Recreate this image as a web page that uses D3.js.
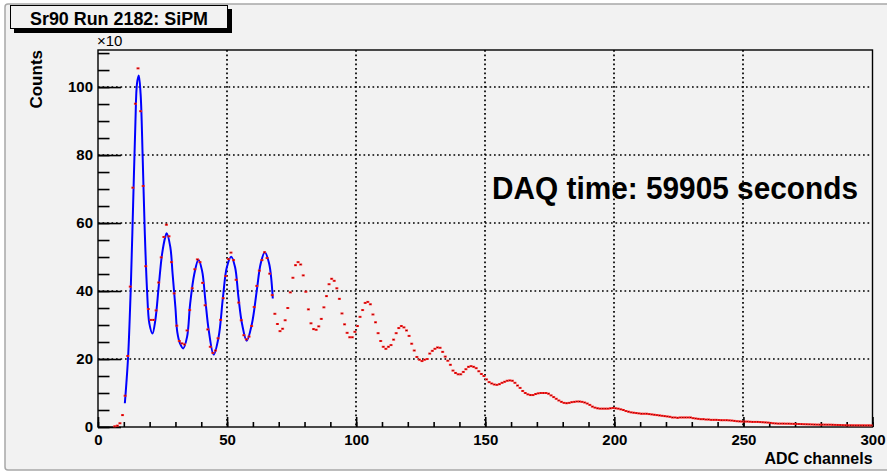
<!DOCTYPE html>
<html>
<head>
<meta charset="utf-8">
<script src="https://cdn.jsdelivr.net/npm/d3@7"></script>
<style>
  html, body { margin: 0; padding: 0; background: #ffffff; }
  svg { display: block; }
  text { font-family: "Liberation Sans", Arial, Helvetica, sans-serif; fill: #000; }
</style>
</head>
<body>
<script>
// ---- data (counts in units of 10^3 per 1-channel bin, bins 0..299) ----
const counts = [
  0, 0, 0, 0, 0, 0, 0.2, 0.4, 1.1, 3.5,
  9.2, 20.9, 41.3, 70.4, 95.1, 105.5, 92.9, 70.9, 47.3, 34.7,
  31.5, 31.5, 34.3, 42.5, 49.9, 55.9, 59.5, 56.1, 48.5, 39.3,
  29.8, 25.3, 24.6, 24.3, 28.4, 34.4, 40.8, 46.4, 49.3, 48.5,
  42.4, 35.8, 28.7, 23.6, 21.8, 22.5, 26.1, 31.5, 37.9, 44.4,
  49.4, 51.3, 49.1, 43.3, 36.6, 31.4, 27.0, 25.8, 26.6, 29.7,
  35.3, 41.5, 46.0, 49.1, 51.4, 49.7, 45.1, 38.8, 33.3, 30.3,
  28.2, 28.9, 31.4, 35.0, 39.6, 43.9, 47.6, 48.5, 47.8, 44.6,
  39.8, 34.6, 30.5, 28.8, 28.6, 29.6, 31.8, 35.2, 38.5, 42.0,
  43.6, 43.0, 40.8, 37.7, 33.4, 30.2, 27.7, 26.4, 26.4, 28.0,
  29.7, 32.4, 34.4, 36.5, 36.8, 36.1, 33.1, 30.8, 27.6, 25.3,
  23.6, 23.0, 23.6, 24.1, 25.7, 27.6, 29.1, 29.7, 29.3, 28.4,
  26.8, 24.5, 22.5, 20.6, 19.8, 19.4, 19.8, 20.0, 21.6, 22.4,
  23.0, 23.4, 23.3, 22.1, 20.7, 19.5, 18.3, 16.6, 15.9, 15.5,
  15.5, 16.2, 17.0, 17.7, 17.9, 17.7, 17.3, 16.4, 15.6, 15.0,
  14.0, 13.2, 12.8, 12.5, 12.4, 12.6, 13.0, 13.3, 13.6, 13.7,
  13.6, 13.0, 12.2, 11.5, 10.6, 10.0, 9.6, 9.4, 9.4, 9.7,
  9.9, 10.0, 10.0, 10.0, 9.8, 9.3, 8.8, 8.3, 7.8, 7.4,
  7.1, 7.0, 7.1, 7.3, 7.4, 7.5, 7.5, 7.4, 7.2, 6.9,
  6.5, 6.0, 5.7, 5.5, 5.4, 5.4, 5.4, 5.4, 5.5, 5.6,
  5.5, 5.4, 5.2, 5.0, 4.7, 4.5, 4.3, 4.2, 4.1, 4.0,
  3.9, 3.9, 3.9, 3.8, 3.7, 3.6, 3.5, 3.4, 3.3, 3.2,
  3.1, 3.0, 2.8, 2.8, 2.7, 2.8, 2.8, 2.8, 2.8, 2.8,
  2.6, 2.5, 2.4, 2.3, 2.3, 2.2, 2.2, 2.1, 2.1, 2.1,
  2.05, 2.0, 2.0, 2.0, 1.95, 1.9, 1.8, 1.7, 1.65, 1.6,
  1.6, 1.6, 1.55, 1.5, 1.5, 1.5, 1.45, 1.4, 1.35, 1.3,
  1.2, 1.1, 1.05, 1.0, 1.0, 1.0, 0.98, 0.98, 0.95, 0.92,
  0.9, 0.88, 0.85, 0.82, 0.8, 0.78, 0.75, 0.72, 0.7, 0.69,
  0.69, 0.69, 0.68, 0.68, 0.65, 0.62, 0.6, 0.58, 0.55, 0.52,
  0.5, 0.5, 0.5, 0.49, 0.49, 0.49, 0.48, 0.48, 0.48, 0.47
];
const binWidth = 1;

// fit curve samples (channel, counts x10^3)
const fitX = [10.4, 11.0, 11.7, 12.7, 13.6, 14.5, 15.1, 15.8, 16.5, 17.3, 18.1, 19.0, 19.9, 21.1, 22.2, 23.5, 24.8, 26.1, 26.6, 28.0, 28.9, 30.0, 30.7, 31.8, 33.0, 34.5, 35.7, 37.3, 38.9, 40.3, 41.6, 42.9, 44.8, 46.7, 48.4, 49.9, 51.6, 53.1, 54.4, 55.8, 57.6, 59.6, 61.5, 63.0, 64.6, 66.3, 67.7];
const fitY = [7.0, 13.0, 21.2, 41.0, 65.3, 89.8, 101.0, 103.4, 98.0, 79.5, 57.8, 40.2, 30.4, 27.5, 31.4, 41.2, 50.8, 56.0, 57.0, 53.0, 45.0, 35.0, 28.0, 24.5, 23.1, 26.5, 36.3, 45.0, 49.2, 46.0, 37.2, 28.4, 21.3, 26.4, 38.1, 47.0, 50.1, 47.0, 38.2, 30.3, 25.4, 30.3, 40.1, 48.0, 51.4, 48.0, 37.8];

const xMajorTicks = [0, 50, 100, 150, 200, 250, 300];
const yMajorTicks = [0, 20, 40, 60, 80, 100];
const xGridValues = [50, 100, 150, 200, 250];
const yGridValues = [20, 40, 60, 80, 100];
const titleText = "Sr90 Run 2182: SiPM";
const xTitle = "ADC channels";
const yTitle = "Counts";
const yExponent = "\u00d710";
const noteText = "DAQ time: 59905 seconds";

// ---- layout ----
const W = 887, H = 472;
const frame = { left: 98, right: 872.5, top: 50, bottom: 427 };

const svg = d3.select("body").append("svg").attr("width", W).attr("height", H);

// canvas
svg.append("rect").attr("x", 0).attr("y", 0).attr("width", W).attr("height", H).attr("fill", "#ffffff");
svg.append("rect").attr("x", 5).attr("y", 4).attr("width", W + 20).attr("height", 466)
  .attr("rx", 3).attr("fill", "#f2f2f2").attr("stroke", "#a8a8a8").attr("stroke-width", 1.5);

const x = d3.scaleLinear().domain([0, 300]).range([frame.left, frame.right]);
const y = d3.scaleLinear().domain([0, 110.9]).range([frame.bottom, frame.top]);

// grid
const grid = svg.append("g").attr("stroke", "#000").attr("stroke-width", 1.7).attr("stroke-dasharray", "1.7,2.8");
grid.selectAll("line.gx").data(xGridValues).join("line")
  .attr("x1", d => Math.round(x(d))).attr("x2", d => Math.round(x(d)))
  .attr("y1", frame.top).attr("y2", frame.bottom);
grid.selectAll("line.gy").data(yGridValues).join("line")
  .attr("y1", d => Math.round(y(d))).attr("y2", d => Math.round(y(d)))
  .attr("x1", frame.left).attr("x2", frame.right);

// frame
svg.append("rect").attr("x", frame.left).attr("y", frame.top)
  .attr("width", frame.right - frame.left).attr("height", frame.bottom - frame.top)
  .attr("fill", "none").attr("stroke", "#000").attr("stroke-width", 1.4);

// x axis (ticks inward)
const xMinor = d3.range(0, 301, 10);
const gxMinor = svg.append("g").attr("transform", `translate(0,${frame.bottom})`)
  .call(d3.axisBottom(x).tickValues(xMinor).tickSizeInner(-5).tickSizeOuter(0).tickFormat(""));
const gx = svg.append("g").attr("transform", `translate(0,${frame.bottom})`)
  .call(d3.axisBottom(x).tickValues(xMajorTicks).tickSizeInner(-10).tickSizeOuter(0).tickPadding(7).tickFormat(d3.format("d")));
[gx, gxMinor].forEach(g => {
  g.select(".domain").remove();
  g.selectAll(".tick line").attr("stroke", "#000").attr("stroke-width", 1.6);
});
gx.selectAll(".tick text").attr("font-size", 15).attr("font-family", "Liberation Sans, Arial, sans-serif").style("font-weight", "bold").attr("fill", "#000");

// y axis (ticks inward)
const yMinor = d3.range(0, 111, 5);
const gyMinor = svg.append("g").attr("transform", `translate(${frame.left},0)`)
  .call(d3.axisLeft(y).tickValues(yMinor).tickSizeInner(-11.5).tickSizeOuter(0).tickFormat(""));
const gy = svg.append("g").attr("transform", `translate(${frame.left},0)`)
  .call(d3.axisLeft(y).tickValues(yMajorTicks).tickSizeInner(-23).tickSizeOuter(0).tickPadding(5).tickFormat(d3.format("d")));
[gy, gyMinor].forEach(g => {
  g.select(".domain").remove();
  g.selectAll(".tick line").attr("stroke", "#000").attr("stroke-width", 1.6);
});
gy.selectAll(".tick text").attr("font-size", 15).attr("font-family", "Liberation Sans, Arial, sans-serif").style("font-weight", "bold").attr("fill", "#000");

// axis titles
svg.append("text").attr("x", frame.right).attr("y", 464).attr("text-anchor", "end").style("font-weight", "bold")
  .attr("font-size", 17).attr("textLength", 108).attr("lengthAdjust", "spacingAndGlyphs").text(xTitle);
svg.append("text").attr("transform", `translate(42,${frame.top}) rotate(-90)`).attr("text-anchor", "end")
  .style("font-weight", "bold").attr("font-size", 17).text(yTitle);
svg.append("text").attr("x", 97).attr("y", 46).attr("font-size", 15).style("font-weight", "normal").text(yExponent);

// fit curve
const line = d3.line().x(d => x(d[0])).y(d => y(d[1])).curve(d3.curveCatmullRom.alpha(0.5));
svg.append("path").datum(d3.zip(fitX, fitY)).attr("d", line)
  .attr("fill", "none").attr("stroke", "#0000ff").attr("stroke-width", 2);

// data markers
const pts = counts.map((v, i) => ({ c: (i + 0.5) * binWidth, v })).filter(d => d.v > 0);
const gm = svg.append("g");
gm.selectAll("rect.m").data(pts).join("rect").attr("class", "m")
  .attr("x", d => x(d.c) - 1.5).attr("y", d => y(d.v) - 1)
  .attr("width", 3).attr("height", 2).attr("fill", "#ff2020");
gm.selectAll("rect.c").data(pts).join("rect").attr("class", "c")
  .attr("x", d => x(d.c) - 0.5).attr("y", d => y(d.v) - 0.5)
  .attr("width", 1).attr("height", 1).attr("fill", "#700000");

// annotation
svg.append("text").attr("x", 492).attr("y", 199).attr("font-size", 31).style("font-weight", "bold")
  .attr("textLength", 366).attr("lengthAdjust", "spacingAndGlyphs").text(noteText);

// title box with shadow
svg.append("rect").attr("x", 14).attr("y", 9).attr("width", 218).attr("height", 24).attr("fill", "#000");
svg.append("rect").attr("x", 10.5).attr("y", 5.5).attr("width", 217).attr("height", 23)
  .attr("fill", "#f2f2f2").attr("stroke", "#000").attr("stroke-width", 1);
svg.append("text").attr("x", 119).attr("y", 25).attr("text-anchor", "middle").attr("font-size", 18).style("font-weight", "bold")
  .attr("textLength", 178).attr("lengthAdjust", "spacingAndGlyphs").text(titleText);
</script>
</body>
</html>
